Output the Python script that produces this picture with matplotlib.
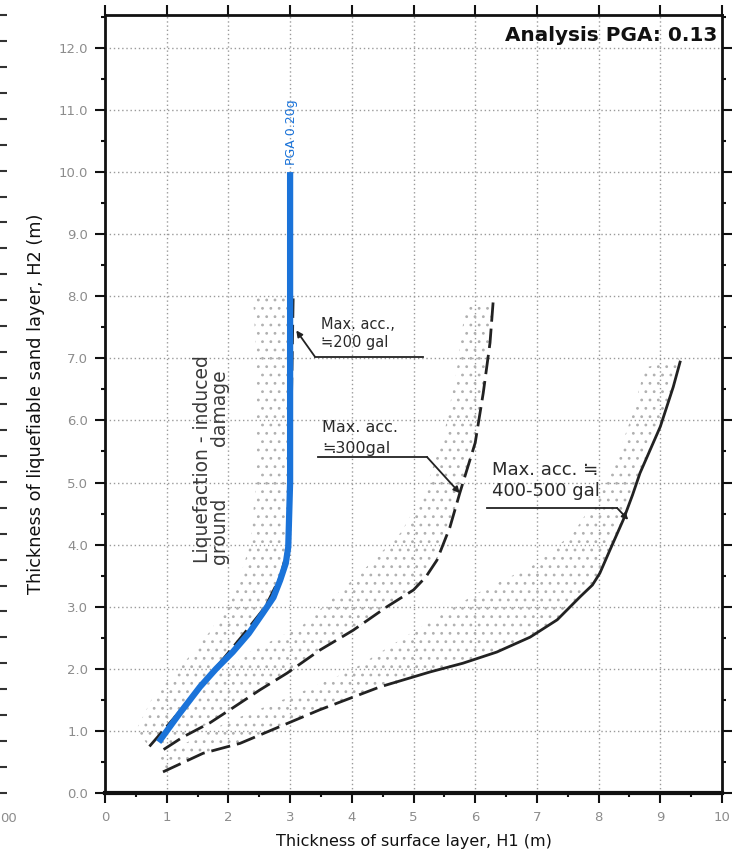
import numpy as np
import matplotlib
matplotlib.use("Agg")
import matplotlib.pyplot as plt
from matplotlib.patches import Polygon
from matplotlib.ticker import MultipleLocator

plt.rcParams['font.family'] = ['DejaVu Sans']
plt.rcParams['hatch.linewidth'] = 0.8

# ---- boundary curves: thickness of surface layer H1 (m) vs liquefiable layer H2 (m)
curve_200_h1 = [0.72, 1.2, 1.7, 2.2, 2.6, 2.85, 2.97, 3.0, 3.05]
curve_200_h2 = [0.75, 1.3, 1.9, 2.5, 3.0, 3.5, 4.0, 5.0, 8.0]
band_200_h1 = [0.5, 0.75, 1.2, 1.7, 2.1, 2.35, 2.45, 2.45, 2.45, 2.4]
band_200_h2 = [1.0, 1.5, 2.0, 2.6, 3.2, 4.0, 5.0, 6.0, 7.0, 8.0]

curve_300_h1 = [0.95, 1.26, 1.7, 2.07, 2.51, 2.95, 3.48, 4.02, 4.57, 5.0, 5.2, 5.38, 5.59, 5.75, 6.0, 6.13, 6.24, 6.29]
curve_300_h2 = [0.7, 0.9, 1.13, 1.37, 1.66, 1.93, 2.3, 2.62, 3.0, 3.27, 3.48, 3.75, 4.28, 4.83, 5.64, 6.44, 7.25, 7.9]
band_300_h1 = [0.8, 1.5, 2.3, 3.2, 4.2, 4.8, 5.2, 5.5, 5.7, 5.85]
band_300_h2 = [1.05, 1.65, 2.25, 2.7, 3.6, 4.2, 4.9, 5.8, 6.8, 7.9]

curve_500_h1 = [0.94, 1.59, 2.19, 2.62, 3.48, 4.46, 4.73, 5.27, 5.8, 6.35, 6.89, 7.33, 7.7, 7.9, 8.02, 8.2, 8.4, 8.55, 8.67, 9.0, 9.21, 9.32]
curve_500_h2 = [0.34, 0.64, 0.8, 0.98, 1.34, 1.71, 1.79, 1.95, 2.09, 2.27, 2.51, 2.79, 3.16, 3.35, 3.54, 3.95, 4.4, 4.8, 5.15, 5.9, 6.54, 6.94]
curve_500_dashed_pts = 7
band_500_h1 = [0.9, 2.0, 3.0, 4.0, 5.0, 6.0, 7.0, 7.6, 8.0, 8.3, 8.55, 8.75, 9.3]
band_500_h2 = [0.6, 1.15, 1.55, 1.98, 2.6, 3.2, 3.7, 4.2, 4.8, 5.4, 6.1, 6.85, 7.0]

# ---- PGA 0.20g boundary
pga_h1 = [0.87, 1.2, 1.54, 1.8, 2.07, 2.33, 2.56, 2.73, 2.84, 2.93, 2.97, 3.0, 3.0]
pga_h2 = [0.82, 1.27, 1.71, 2.0, 2.27, 2.57, 2.9, 3.15, 3.43, 3.7, 3.96, 5.0, 10.0]

x_ticks = list(range(0, 11))
y_ticks = list(range(0, 13))
y_tick_labels = [f"{v:.1f}" for v in y_ticks]

W, H = 737, 856
fig = plt.figure(figsize=(W / 100, H / 100), dpi=100)

# neighbouring panel, only its right edge shows
ax0 = fig.add_axes([-0.3, 1 - 793 / H, 0.3 - 1 / W, (793 - 15) / H])
ax0.set_xlim(0, 100)
ax0.set_ylim(0, 30)
for s in ax0.spines.values():
    s.set_visible(False)
ax0.yaxis.tick_right()
ax0.yaxis.set_major_locator(MultipleLocator(1))
ax0.tick_params(axis='y', direction='out', length=6, width=1.5, color='#333', labelright=False)
ax0.set_xticks([])
ax0.patch.set_alpha(0)
fig.text(0 / W, 1 - 818 / H, "00", ha='left', va='center', fontsize=9.5, color='#8c8c8c')

ax = fig.add_axes([105 / W, 1 - 793 / H, (722 - 105) / W, (793 - 15) / H])
ax.set_xlim(0, 10)
ax.set_ylim(0, 12.53)

# grid
for v in x_ticks[1:-1]:
    ax.axvline(v, color='#9a9a9a', lw=1.0, ls=(0, (1, 2)), zorder=0)
for v in y_ticks[1:]:
    ax.axhline(v, color='#9a9a9a', lw=1.0, ls=(0, (1, 2)), zorder=0)

# stippled bands
def band(cx, cy, ex, ey):
    pts = list(zip(cx, cy)) + list(zip(ex, ey))[::-1]
    ax.add_patch(Polygon(pts, closed=True, facecolor='none', edgecolor='#b0b0b0',
                         hatch='..', lw=0, zorder=1))

band(curve_200_h1, curve_200_h2, band_200_h1, band_200_h2)
band(curve_300_h1, curve_300_h2, band_300_h1, band_300_h2)
band(curve_500_h1, curve_500_h2, band_500_h1, band_500_h2)

dash = (0, (7, 2.5))
ax.plot(curve_200_h1, curve_200_h2, color='#222', lw=2.0, ls=dash, zorder=2)
ax.plot(curve_300_h1, curve_300_h2, color='#222', lw=2.0, ls=dash, zorder=2)
ax.plot(curve_500_h1[:curve_500_dashed_pts], curve_500_h2[:curve_500_dashed_pts],
        color='#222', lw=2.0, ls=dash, zorder=2)
ax.plot(curve_500_h1[curve_500_dashed_pts - 1:], curve_500_h2[curve_500_dashed_pts - 1:],
        color='#222', lw=2.0, zorder=2)

ax.plot(pga_h1, pga_h2, color='#1a73d9', lw=4.5, solid_capstyle='butt',
        solid_joinstyle='round', zorder=4)
ax.text(3.03, pga_h2[-1] + 0.12, "PGA 0.20g", rotation=90, ha='center', va='bottom',
        color='#1a73d9', fontsize=9)

# region label
ax.text(1.58, 5.38, "Liquefaction - induced", rotation=90, ha='center', va='center',
        fontsize=13.5, color='#3a3a3a')
ax.text(1.86, 4.23, "ground", rotation=90, ha='center', va='center', fontsize=13.5, color='#3a3a3a')
ax.text(1.86, 6.2, "damage", rotation=90, ha='center', va='center', fontsize=13.5, color='#3a3a3a')

# acceleration labels with leaders
def label(lines, x, ys, size, ux0, ux1, uy, tip):
    for t, yy in zip(lines, ys):
        ax.text(x, yy, t, ha='left', va='center', fontsize=size, color='#2a2a2a')
    ax.plot([ux0, ux1], [uy, uy], color='#222', lw=1.3, zorder=3)
    start = (ux0, uy) if tip[0] < ux0 else (ux1, uy)
    ax.annotate("", xy=tip, xytext=start,
                arrowprops=dict(arrowstyle='-|>', color='#222', lw=1.3,
                                mutation_scale=9, shrinkA=0, shrinkB=0), zorder=3)

label(["Max. acc.,", "\u2252200 gal"], 3.5, [7.55, 7.25], 10.5, 3.4, 5.15, 7.03, (3.1, 7.45))
label(["Max. acc.", "\u2252300gal"], 3.52, [5.88, 5.55], 11.5, 3.45, 5.22, 5.41, (5.75, 4.83))
label(["Max. acc. \u2252", "400-500 gal"], 6.27, [5.2, 4.86], 13, 6.19, 8.3, 4.59, (8.48, 4.4))

ax.text(9.93, 12.2, "Analysis PGA: 0.13", ha='right', va='center', fontsize=14.4,
        fontweight='bold', color='#111')

# axes styling
ax.set_xticks(x_ticks)
ax.set_yticks(y_ticks)
ax.set_yticklabels(y_tick_labels)
ax.xaxis.set_minor_locator(MultipleLocator(0.5))
ax.yaxis.set_minor_locator(MultipleLocator(0.5))
ax.tick_params(axis='both', which='major', direction='out', length=7, width=1.5,
               color='#111', labelcolor='#8c8c8c', labelsize=9.5)
ax.tick_params(axis='x', which='major', pad=6)
ax.tick_params(axis='y', which='major', pad=5)
ax.tick_params(axis='both', which='minor', direction='out', length=3, width=1.5, color='#111')
ax.tick_params(top=True, right=True, which='major')
ax.tick_params(right=True, which='minor')
ax.tick_params(labeltop=False, labelright=False)
for name, s in ax.spines.items():
    s.set_color('#111')
    s.set_linewidth(3 if name == 'bottom' else 2)

ax.set_xlabel("Thickness of surface layer, H1 (m)", fontsize=11.5, color='#111', labelpad=7)
ax.set_ylabel("Thickness of liquefiable sand layer, H2 (m)", fontsize=12.8, color='#111', labelpad=10)

fig.savefig("out.png", dpi=100)
